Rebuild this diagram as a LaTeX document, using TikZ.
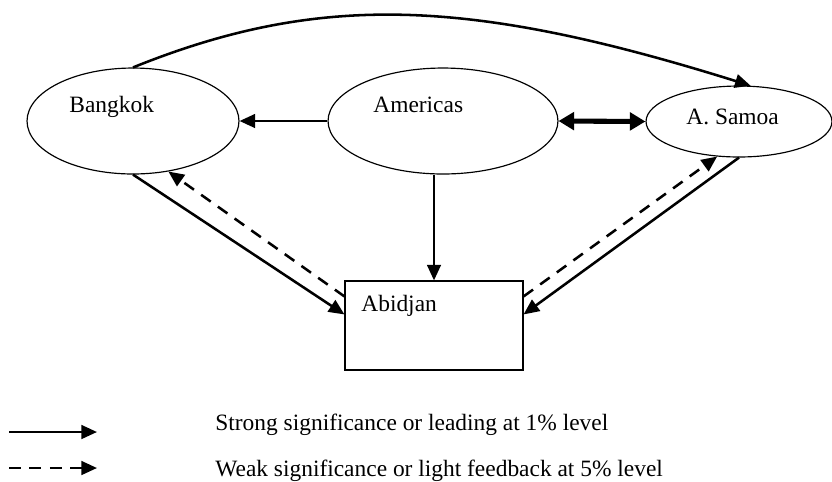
\documentclass[tikz,border=0pt]{standalone}
\usepackage{fontspec}
\setmainfont{Liberation Serif}
\usetikzlibrary{calc,arrows.meta,shapes.geometric}

\begin{document}
\begin{tikzpicture}[
    x=0.018cm, y=-0.018cm,
    font=\fontsize{12}{14}\selectfont,
    market/.style={draw, ellipse, line width=0.6pt, inner sep=0pt},
    station/.style={draw, rectangle, line width=0.6pt, inner sep=0pt},
    tag/.style={anchor=base west, inner sep=0pt},
    lead/.style={-{Triangle[length=8pt,width=7pt]}, line width=1.3pt},
    feedback/.style={lead, dash pattern=on 6pt off 4.5pt},
    twoway/.style={{Triangle[length=8pt,width=9pt]}-{Triangle[length=8pt,width=9pt]}, line width=2.6pt}
  ]
    \useasboundingbox (0,0) rectangle (832,481);
    % markets
    \node[market, minimum width=3.816cm, minimum height=1.908cm] (bkk) at (133,121) {};
    \node[market, minimum width=4.14cm, minimum height=1.908cm] (ame) at (443,121) {};
    \node[market, minimum width=3.348cm, minimum height=1.278cm] (sam) at (739,121.5) {};
    \node[station, minimum width=3.204cm, minimum height=1.602cm] (abj) at (434,325.5) {};
    \node[tag] (bkk-txt) at (69,112) {Bangkok};
    \node[tag] (ame-txt) at (373,112) {Americas};
    \node[tag] (sam-txt) at (686,124) {A. Samoa};
    \node[tag] (abj-txt) at (361,311) {Abidjan};
    % links
    \draw[lead] (bkk.north) .. controls (320,-8) and (470,-2) .. (sam.72);
    \draw[lead] (ame.west) -- (bkk.east);
    \draw[twoway] (ame.east) -- (sam.west);
    \draw[lead] (abj.north |- ame.south) -- (abj.north);
    \draw[lead] (bkk.south) -- ($(abj.north west)+(0,34)$);
    \draw[feedback] ($(abj.north west)+(0,16)$) -- (bkk.-55);
    \draw[lead] (sam.south) -- ($(abj.north east)+(0,34)$);
    \draw[feedback] ($(abj.north east)+(0,16)$) -- (sam.-122);
    % legend
    \coordinate (s1) at (9,432);
    \coordinate (s2) at (97,432);
    \coordinate (w1) at (9,468);
    \coordinate (w2) at (97,468);
    \draw[lead] (s1) -- (s2);
    \draw[feedback] (w1) -- (w2);
    \node[tag] (strong-txt) at (215,430) {Strong significance or leading at 1\% level};
    \node[tag] (weak-txt) at (215,476) {Weak significance or light feedback at 5\% level};
\end{tikzpicture}
\end{document}
